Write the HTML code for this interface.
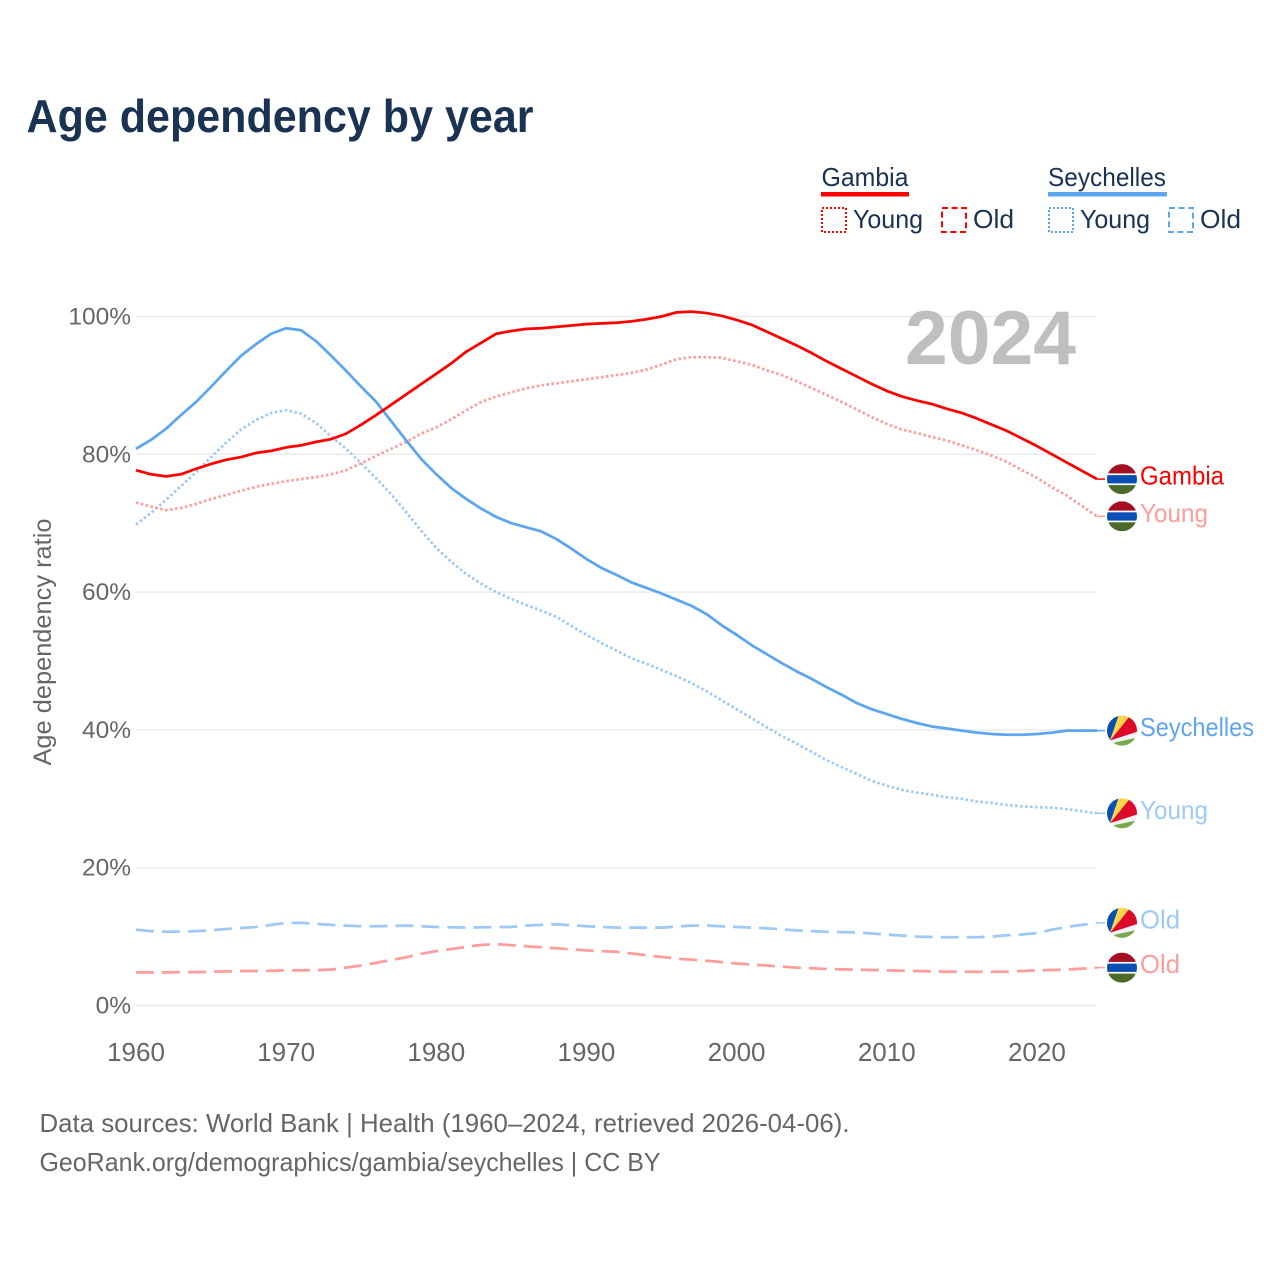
<!DOCTYPE html>
<html lang="en">
<head>
<meta charset="utf-8">
<title>Age dependency by year</title>
<style>
html,body{margin:0;padding:0;background:#fff}
svg{display:block}
text{font-family:"Liberation Sans",sans-serif}
</style>
</head>
<body>
<svg id="chart" width="1280" height="1280" viewBox="0 0 1280 1280" xmlns="http://www.w3.org/2000/svg">
  <defs>
    <clipPath id="flag-clip"><circle cx="0" cy="0" r="15"></circle></clipPath>
    <g id="flag-gambia">
      <g clip-path="url(#flag-clip)">
        <rect x="-15" y="-15" width="30" height="30" fill="#fff"></rect>
        <rect x="-15" y="-15" width="30" height="9.3" fill="#a50f24"></rect>
        <rect x="-15" y="-4" width="30" height="8.3" fill="#0a50b4"></rect>
        <rect x="-15" y="6" width="30" height="9" fill="#4a6b2a"></rect>
      </g>
    </g>
    <g id="flag-seychelles">
      <g clip-path="url(#flag-clip)">
        <rect x="-15" y="-15" width="30" height="30" fill="#f2f2f2"></rect>
        <polygon points="-12,10 -16,10 -16,-16 -3,-16" fill="#0a50b4"></polygon>
        <polygon points="-12,10 -3,-16 9,-16" fill="#fcd548"></polygon>
        <polygon points="-12,10 9,-16 16,-16 16,1" fill="#de0a2c"></polygon>
        <polygon points="-12,10 16,1 16,8" fill="#f2f2f2"></polygon>
        <polygon points="-12,10 16,8 16,16 -12,16" fill="#f2f2f2"></polygon>
        <polygon points="-8,12 13,7.5 16,16 -8,16" fill="#76a84f"></polygon>
      </g>
    </g>
  </defs>

  <text x="26.5" y="132" font-size="46" font-weight="700" fill="#1a3352" textLength="507" lengthAdjust="spacingAndGlyphs">Age dependency by year</text>

  <g>
    <text x="821.5" y="186" font-size="26" fill="#1a3352" textLength="87" lengthAdjust="spacingAndGlyphs">Gambia</text>
    <rect x="821" y="192" width="88" height="4.5" fill="#ff0000"></rect>
    <rect x="822" y="208" width="24" height="24" fill="none" stroke="#ff0000" stroke-width="2" stroke-dasharray="2 2"></rect>
    <text x="853" y="228" font-size="26" fill="#1a3352" textLength="70" lengthAdjust="spacingAndGlyphs">Young</text>
    <rect x="942" y="208" width="24" height="24" fill="none" stroke="#ff0000" stroke-width="2" stroke-dasharray="6 3.6"></rect>
    <text x="973" y="228" font-size="26" fill="#1a3352" textLength="41" lengthAdjust="spacingAndGlyphs">Old</text>

    <text x="1048" y="186" font-size="26" fill="#1a3352" textLength="118" lengthAdjust="spacingAndGlyphs">Seychelles</text>
    <rect x="1048" y="192" width="119" height="4.5" fill="#5da5ee"></rect>
    <rect x="1049" y="208" width="24" height="24" fill="none" stroke="#5da5ee" stroke-width="2" stroke-dasharray="2 2"></rect>
    <text x="1080" y="228" font-size="26" fill="#1a3352" textLength="70" lengthAdjust="spacingAndGlyphs">Young</text>
    <rect x="1169" y="208" width="24" height="24" fill="none" stroke="#5da5ee" stroke-width="2" stroke-dasharray="6 3.6"></rect>
    <text x="1200" y="228" font-size="26" fill="#1a3352" textLength="41" lengthAdjust="spacingAndGlyphs">Old</text>
  </g>

  <g id="grid"></g>
  <g id="y-ticks"></g>
  <g id="x-ticks"></g>

  <text x="905" y="364" font-size="76" font-weight="700" fill="#bfbfbf" textLength="171" lengthAdjust="spacingAndGlyphs">2024</text>

  <text transform="translate(51,642) rotate(-90)" text-anchor="middle" font-size="25" fill="#666666" textLength="247" lengthAdjust="spacingAndGlyphs">Age dependency ratio</text>

  <g id="series"></g>
  <g id="end-labels"></g>

  <text x="39.5" y="1132" font-size="26" fill="#666666" textLength="810" lengthAdjust="spacingAndGlyphs">Data sources: World Bank | Health (1960–2024, retrieved 2026-04-06).</text>
  <text x="39.5" y="1171" font-size="26" fill="#666666" textLength="621" lengthAdjust="spacingAndGlyphs">GeoRank.org/demographics/gambia/seychelles | CC BY</text>
</svg>

<script>
var startYear = 1960;
var xTickYears = [1960, 1970, 1980, 1990, 2000, 2010, 2020];
var yTickValues = [0, 20, 40, 60, 80, 100];

var gambiaTotal = [77.7,77.1,76.8,77.1,77.9,78.6,79.2,79.6,80.2,80.5,81.0,81.3,81.8,82.2,83.0,84.3,85.7,87.2,88.7,90.2,91.7,93.2,94.9,96.2,97.5,97.9,98.2,98.3,98.5,98.7,98.9,99.0,99.1,99.3,99.6,100.0,100.6,100.7,100.5,100.1,99.5,98.8,97.8,96.8,95.8,94.7,93.5,92.4,91.3,90.2,89.2,88.4,87.8,87.3,86.6,86.0,85.2,84.3,83.4,82.3,81.2,80.0,78.8,77.6,76.4];
var gambiaYoung = [73.0,72.4,71.9,72.2,72.8,73.5,74.1,74.7,75.3,75.7,76.1,76.4,76.7,77.1,77.7,78.7,79.8,80.8,81.8,83.0,83.9,85.1,86.4,87.6,88.4,89.0,89.6,90.0,90.3,90.6,90.9,91.2,91.5,91.8,92.3,93.0,93.8,94.1,94.1,94.0,93.5,93.0,92.2,91.5,90.6,89.6,88.6,87.6,86.5,85.4,84.4,83.6,83.1,82.5,82.0,81.3,80.6,79.8,78.9,77.7,76.6,75.2,74.0,72.5,71.0];
var gambiaOld = [4.8,4.8,4.8,4.85,4.85,4.9,4.95,5.0,5.0,5.05,5.1,5.1,5.15,5.2,5.5,5.8,6.2,6.6,7.0,7.5,7.9,8.2,8.5,8.8,8.9,8.75,8.6,8.45,8.3,8.15,8.0,7.9,7.8,7.55,7.3,7.05,6.8,6.65,6.5,6.3,6.1,5.95,5.8,5.65,5.5,5.4,5.3,5.25,5.2,5.15,5.1,5.05,5.0,4.95,4.9,4.9,4.9,4.9,4.9,5.0,5.1,5.15,5.2,5.35,5.5];
var seychellesTotal = [80.8,82.1,83.7,85.7,87.6,89.8,92.1,94.3,96.0,97.5,98.3,98.0,96.4,94.3,92.1,89.8,87.6,84.8,82.0,79.3,77.1,75.1,73.5,72.1,70.9,70.0,69.4,68.8,67.7,66.3,64.8,63.5,62.5,61.4,60.6,59.8,58.9,58.0,56.8,55.2,53.8,52.3,51.0,49.7,48.5,47.4,46.2,45.1,43.9,43.0,42.3,41.6,41.0,40.5,40.2,39.9,39.6,39.4,39.3,39.3,39.4,39.6,39.9,39.9,39.9];
var seychellesYoung = [69.8,71.5,73.4,75.4,77.4,79.6,81.7,83.6,85.0,86.0,86.4,85.9,84.5,82.6,80.8,78.7,76.5,74.2,71.6,68.9,66.4,64.4,62.6,61.2,60.0,59.0,58.1,57.3,56.4,55.1,53.8,52.6,51.5,50.4,49.6,48.7,47.8,46.8,45.6,44.3,43.0,41.7,40.4,39.1,38.0,36.8,35.6,34.6,33.6,32.6,31.9,31.3,30.9,30.6,30.2,30.0,29.6,29.4,29.1,28.9,28.8,28.7,28.5,28.2,27.9];
var seychellesOld = [11.0,10.8,10.7,10.75,10.8,10.9,11.1,11.25,11.4,11.7,12.0,12.0,11.85,11.7,11.6,11.5,11.5,11.55,11.6,11.5,11.4,11.35,11.3,11.35,11.4,11.4,11.6,11.7,11.8,11.65,11.5,11.4,11.3,11.3,11.3,11.3,11.45,11.6,11.6,11.5,11.4,11.3,11.2,11.05,10.9,10.8,10.7,10.65,10.6,10.45,10.3,10.15,10.0,9.95,9.9,9.9,9.9,10.0,10.2,10.3,10.5,11.0,11.4,11.7,12.0];

function xScale(year) { return 136 + (year - 1960) * 15.015; }
function yScale(value) { return 1005.5 - value * 6.89; }

var svgNS = 'http://www.w3.org/2000/svg';
function make(tag, parent, attrs, text) {
  var el = document.createElementNS(svgNS, tag);
  for (var k in attrs) { el.setAttribute(k, attrs[k]); }
  if (text !== undefined) { el.textContent = text; }
  parent.appendChild(el);
  return el;
}

var gridGroup = document.getElementById('grid');
var yTickGroup = document.getElementById('y-ticks');
yTickValues.forEach(function (v) {
  var line = make('line', gridGroup, {x1: 136, x2: 1096, y1: yScale(v), y2: yScale(v), stroke: '#ebebeb', 'stroke-width': 1.5});
  
  
  var label = make('text', yTickGroup, {x: 131, y: yScale(v) + 8, 'text-anchor': 'end', 'font-size': 24.5, fill: '#666666'}, v + '%');
  
  
});

var xTickGroup = document.getElementById('x-ticks');
xTickYears.forEach(function (yr) {
  var label = make('text', xTickGroup, {x: xScale(yr), y: 1061, 'text-anchor': 'middle', 'font-size': 26, fill: '#666666'}, String(yr));
  
  
});

var lineGroup = document.getElementById('series');
var endGroup = document.getElementById('end-labels');

function drawSeries(values, name, label, color, dash, flag, textWidth) {
  var d = values.map(function (v, i) {
    return (i ? 'L' : 'M') + xScale(startYear + i).toFixed(2) + ' ' + yScale(v).toFixed(2);
  }).join(' ');
  var attrs = {d: d, fill: 'none', stroke: color, 'stroke-width': 2.75, 'stroke-linejoin': 'round'};
  if (dash) { attrs['stroke-dasharray'] = dash; }
  var path = make('path', lineGroup, attrs);
  
  

  var lastY = yScale(values[values.length - 1]);
  var lastX = xScale(startYear + values.length - 1);
  var connector = make('line', endGroup, {x1: lastX, x2: 1105, y1: lastY, y2: lastY, stroke: color, 'stroke-width': 1.5});
  
  
  var flagUse = make('use', endGroup, {href: '#' + flag, transform: 'translate(1122,' + lastY + ')'});
  
  
  var text = make('text', endGroup, {x: 1140, y: lastY + 5.5, 'font-size': 26, fill: color, textLength: textWidth, lengthAdjust: 'spacingAndGlyphs'}, label);
  
  
}

drawSeries(seychellesOld, 'seychelles-old', 'Old', '#9ec9f5', '18 8', 'flag-seychelles', 40);
drawSeries(gambiaOld, 'gambia-old', 'Old', '#ff9c9c', '18 8', 'flag-gambia', 40);
drawSeries(seychellesYoung, 'seychelles-young', 'Young', '#9ec9f5', '2.5 2.5', 'flag-seychelles', 68);
drawSeries(gambiaYoung, 'gambia-young', 'Young', '#ff9c9c', '2.5 2.5', 'flag-gambia', 68);
drawSeries(seychellesTotal, 'seychelles-total', 'Seychelles', '#5da5ee', null, 'flag-seychelles', 114);
drawSeries(gambiaTotal, 'gambia-total', 'Gambia', '#ff0000', null, 'flag-gambia', 84);
</script>
</body>
</html>
